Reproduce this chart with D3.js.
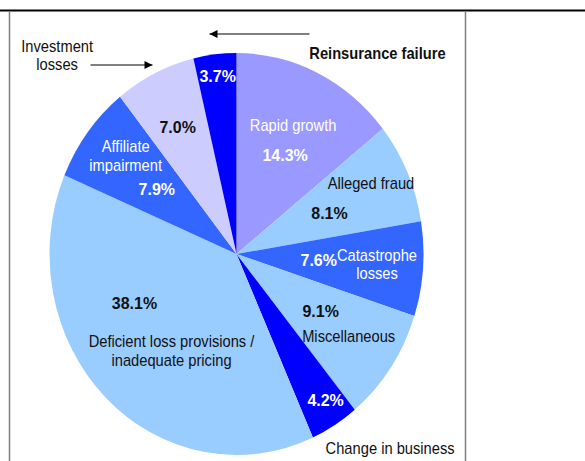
<!DOCTYPE html>
<html>
<head>
<meta charset="utf-8">
<script src="https://cdn.jsdelivr.net/npm/d3@7"></script>
<style>
  body { margin: 0; background: #fff; }
  svg { display: block; font-family: "Liberation Sans", Arial, sans-serif; }
</style>
</head>
<body>
<div class="chart"></div>
<script>
var svgWidth = 585;
var svgHeight = 461;

// slices, clockwise from 12 o'clock
var causes = ["Rapid growth", "Alleged fraud", "Catastrophe losses", "Miscellaneous",
  "Change in business", "Deficient loss provisions / inadequate pricing",
  "Affiliate impairment", "Investment losses", "Reinsurance failure"];
var shares = [14.3, 8.1, 7.6, 9.1, 4.2, 38.1, 7.9, 7.0, 3.7];
var sliceColors = ["#9999ff", "#99ccff", "#3366ff", "#99ccff", "#0000ff",
  "#99ccff", "#3366ff", "#ccccff", "#0000ff"];

// text blocks: slice index, lines, bold, colour, offset of first line from the slice centroid
var labels = [
  [0, ["Rapid growth"], false, "#fff", 16, -38],
  [0, ["14.3%"], true, "#fff", 8, -9],
  [1, ["Alleged fraud"], false, "#111", 49, -30],
  [1, ["8.1%"], true, "#111", 7.5, -0.6],
  [2, ["7.6%"], true, "#fff", -11, -2],
  [2, ["Catastrophe", "losses"], false, "#fff", 47.3, -6.5],
  [3, ["9.1%"], true, "#111", 7, 0],
  [3, ["Miscellaneous"], false, "#111", 35, 26],
  [4, ["4.2%"], true, "#fff", 40, 60],
  [4, ["Change in business"], false, "#111", 104.5, 109],
  [5, ["38.1%"], true, "#111", -36.5, -22.5],
  [5, ["Deficient loss provisions /", "inadequate pricing"], false, "#111", 0.5, 16],
  [6, ["Affiliate", "impairment"], false, "#fff", -36.4, -46.5],
  [6, ["7.9%"], true, "#fff", -5.3, -4],
  [7, ["7.0%"], true, "#111", -18, -36.7],
  [7, ["Investment", "losses"], false, "#111", -138.5, -117.5],
  [8, ["3.7%"], true, "#fff", -8, -78],
  [8, ["Reinsurance failure"], true, "#111", 151.8, -101]
];

// the original is stretched vertically a little
var cx = 236.5, cy = 254, rx = 187, ry = 201;
var ky = ry / rx;
var lineStep = 18.5;

var svg = d3.select(".chart")
  .append("svg")
  .attr("width", svgWidth)
  .attr("height", svgHeight);

// frame lines
svg.append("line")
  .attr("x1", 0).attr("x2", svgWidth).attr("y1", 10.5).attr("y2", 10.5)
  .attr("stroke", "#000").attr("stroke-width", 2);
svg.append("line")
  .attr("x1", 9.5).attr("x2", 9.5).attr("y1", 11).attr("y2", svgHeight)
  .attr("stroke", "#808080").attr("stroke-width", 1.5);
svg.append("line")
  .attr("x1", 465.5).attr("x2", 465.5).attr("y1", 11).attr("y2", svgHeight)
  .attr("stroke", "#808080").attr("stroke-width", 1.5);

var pie = d3.pie().sort(null).value(function(d) { return d; });
var arcs = pie(shares);
var arc = d3.arc().innerRadius(0).outerRadius(rx);

var chart = svg.append("g")
  .attr("transform", "translate(" + cx + "," + cy + ")");

chart.append("g")
  .attr("transform", "scale(1," + ky + ")")
  .selectAll("path")
  .data(arcs)
  .enter().append("path")
    .attr("d", arc)
    .attr("fill", function(d, i) { return sliceColors[i]; });

var texts = chart.selectAll("text")
  .data(labels)
  .enter().append("text")
    .attr("transform", function(l) {
      var c = arc.centroid(arcs[l[0]]);
      return "translate(" + (c[0] + l[4]) + "," + (c[1] * ky + l[5]) + ") scale(" + (1 / ky) + ",1)";
    })
    .attr("text-anchor", "middle")
    .attr("font-size", function(l) { return (l[1][0].indexOf("%") > 0 ? 16 : 14.7) * ky + "px"; })
    .attr("font-weight", function(l) { return l[2] ? "bold" : "normal"; })
    .attr("fill", function(l) { return l[3]; });

texts.selectAll("tspan")
  .data(function(l) { return l[1]; })
  .enter().append("tspan")
    .attr("x", 0)
    .attr("y", function(s, i) { return i * lineStep; })
    .attr("dy", "0.35em")
    .text(function(s) { return s; });

// arrows
var defs = svg.append("defs");
defs.append("marker")
  .attr("id", "head")
  .attr("viewBox", "0 0 10 10")
  .attr("refX", 10).attr("refY", 5)
  .attr("markerWidth", 10).attr("markerHeight", 8)
  .attr("markerUnits", "userSpaceOnUse")
  .attr("orient", "auto")
  .append("path")
    .attr("d", "M0,0L10,5L0,10Z")
    .attr("fill", "#000");

svg.append("line")
  .attr("x1", 90.5).attr("y1", 65).attr("x2", 152.5).attr("y2", 65)
  .attr("stroke", "#000").attr("stroke-width", 1)
  .attr("marker-end", "url(#head)");
svg.append("line")
  .attr("x1", 309.5).attr("y1", 34).attr("x2", 209.5).attr("y2", 34)
  .attr("stroke", "#000").attr("stroke-width", 1)
  .attr("marker-end", "url(#head)");
</script>
</body>
</html>
